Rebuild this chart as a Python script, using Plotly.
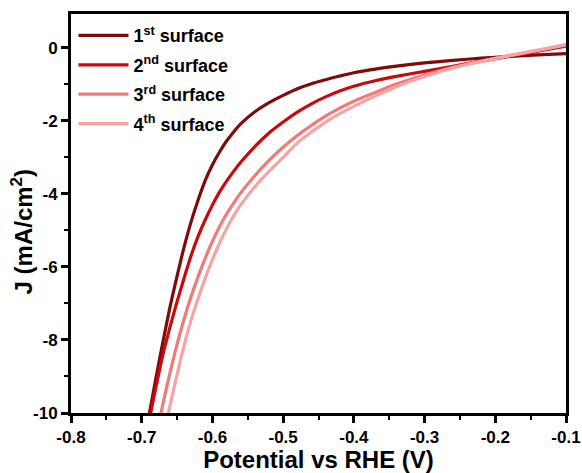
import plotly.graph_objects as go

# ---- data ----
names = ["1<sup>st</sup> surface", "2<sup>nd</sup> surface", "3<sup>rd</sup> surface", "4<sup>th</sup> surface"]

x1 = [-0.690, -0.680, -0.670, -0.660, -0.650, -0.640, -0.630, -0.620, -0.610, -0.600, -0.590, -0.580, -0.570, -0.560,
      -0.540, -0.520, -0.500, -0.480, -0.460, -0.440, -0.420, -0.400, -0.370, -0.340, -0.300, -0.260, -0.220, -0.180, -0.140, -0.100]
j1 = [-10.1, -9.05, -8.05, -7.10, -6.25, -5.45, -4.75, -4.15, -3.62, -3.20, -2.85, -2.55, -2.30, -2.08,
      -1.75, -1.50, -1.30, -1.12, -0.98, -0.87, -0.77, -0.68, -0.58, -0.50, -0.41, -0.34, -0.28, -0.23, -0.19, -0.155]

x2 = [-0.690, -0.680, -0.670, -0.660, -0.650, -0.640, -0.630, -0.620, -0.610, -0.600, -0.590, -0.580, -0.570, -0.560,
      -0.540, -0.520, -0.500, -0.480, -0.460, -0.440, -0.420, -0.400, -0.370, -0.340, -0.300, -0.260, -0.220, -0.180, -0.140, -0.100]
j2 = [-10.25, -9.30, -8.40, -7.65, -6.95, -6.30, -5.68, -5.15, -4.70, -4.30, -3.95, -3.65, -3.38, -3.13,
      -2.70, -2.33, -2.03, -1.76, -1.53, -1.34, -1.18, -1.05, -0.90, -0.78, -0.64, -0.50, -0.36, -0.23, -0.09, 0.05]

x3 = [-0.680, -0.670, -0.660, -0.650, -0.640, -0.630, -0.620, -0.610, -0.600, -0.590, -0.580, -0.570, -0.560,
      -0.540, -0.520, -0.500, -0.480, -0.460, -0.440, -0.420, -0.400, -0.370, -0.340, -0.300, -0.260, -0.220, -0.180, -0.140, -0.100]
j3 = [-10.65, -9.75, -8.90, -8.12, -7.42, -6.80, -6.25, -5.75, -5.30, -4.90, -4.55, -4.25, -3.97,
      -3.50, -3.08, -2.72, -2.40, -2.12, -1.87, -1.65, -1.46, -1.22, -0.99, -0.74, -0.53, -0.36, -0.21, -0.07, 0.08]

x4 = [-0.670, -0.660, -0.650, -0.640, -0.630, -0.620, -0.610, -0.600, -0.590, -0.580, -0.570, -0.560,
      -0.540, -0.520, -0.500, -0.480, -0.460, -0.440, -0.420, -0.400, -0.370, -0.340, -0.300, -0.260, -0.220, -0.180, -0.140, -0.100]
j4 = [-10.60, -9.80, -8.95, -8.15, -7.45, -6.85, -6.30, -5.80, -5.35, -4.95, -4.60, -4.30,
      -3.80, -3.38, -3.00, -2.60, -2.30, -2.03, -1.80, -1.60, -1.32, -1.06, -0.78, -0.55, -0.37, -0.21, -0.06, 0.09]

x_ticks = [-0.8, -0.7, -0.6, -0.5, -0.4, -0.3, -0.2, -0.1]
x_ticklabels = ["-0.8", "-0.7", "-0.6", "-0.5", "-0.4", "-0.3", "-0.2", "-0.1"]
y_ticks = [0, -2, -4, -6, -8, -10]
y_ticklabels = ["0", "-2", "-4", "-6", "-8", "-10"]

colors = ["#7E0A0A", "#C80A0F", "#F07A7A", "#F5A3A3"]

fig = go.Figure()
for i, (xs, js, nm, c) in enumerate(zip([x1, x2, x3, x4], [j1, j2, j3, j4], names, colors)):
    fig.add_trace(go.Scatter(x=xs, y=js, mode="lines", name=nm, legendgroup=f"g{i}",
                             line=dict(color=c, width=3.2, shape="spline", smoothing=0.8)))

FONT = "Liberation Sans, Arial"
axis_font = dict(family=FONT, size=17, color="black", weight="bold")
title_font = dict(family=FONT, size=24, color="black", weight="bold")

fig.update_xaxes(range=[-0.8, -0.1], tickvals=x_ticks, ticktext=x_ticklabels, automargin=False,
                 showline=True, linewidth=3, linecolor="black", mirror=True,
                 ticks="outside", ticklen=7, tickwidth=3, tickcolor="black",
                 minor=dict(ticks="outside", ticklen=4, tickwidth=2, dtick=0.05, tick0=-0.8, tickcolor="black"),
                 showgrid=False, zeroline=False, tickfont=axis_font,
                 title=dict(text="Potential vs RHE (V)", font=title_font, standoff=2))
fig.update_yaxes(range=[-10, 0.93], tickvals=y_ticks, ticktext=y_ticklabels, automargin=False,
                 showline=True, linewidth=3, linecolor="black", mirror=True,
                 ticks="outside", ticklen=7, tickwidth=3, tickcolor="black",
                 minor=dict(ticks="outside", ticklen=4, tickwidth=2, dtick=1, tick0=0, tickcolor="black"),
                 showgrid=False, zeroline=False, tickfont=axis_font)

fig.add_annotation(text="J (mA/cm<sup>2</sup>)", textangle=-90, xref="paper", yref="paper",
                   x=-0.099, y=0.455, xanchor="center", yanchor="middle", showarrow=False,
                   font=title_font)

fig.update_layout(
    width=582, height=473,
    margin=dict(l=71, r=16, t=14, b=60),
    plot_bgcolor="white", paper_bgcolor="white",
    legend=dict(x=0.005, y=0.992, xanchor="left", yanchor="top",
                bgcolor="rgba(0,0,0,0)", itemwidth=50, tracegroupgap=3,
                font=dict(family=FONT, size=18, color="black", weight="bold")),
)

fig.write_html("out.html")
